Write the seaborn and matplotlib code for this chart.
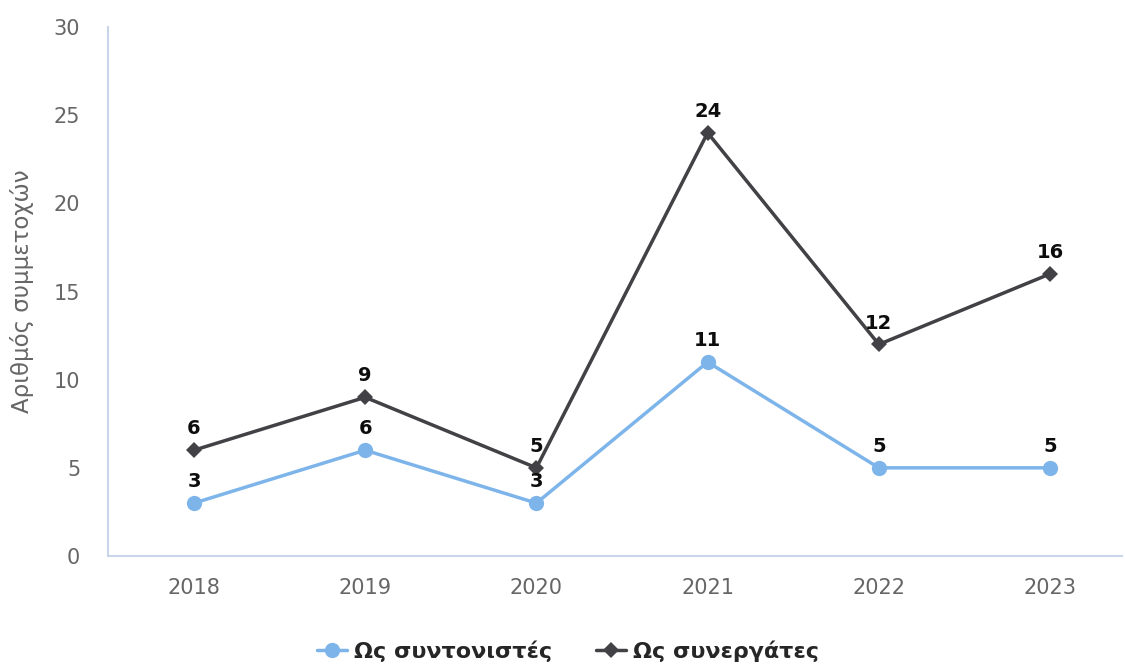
import pandas as pd
import seaborn as sns
import matplotlib.pyplot as plt

years = ['2018', '2019', '2020', '2021', '2022', '2023']
coordinators = [3, 6, 3, 11, 5, 5]
partners = [6, 9, 5, 24, 12, 16]
series_names = ['Ως συντονιστές', 'Ως συνεργάτες']

df = pd.DataFrame({
    'year': years * 2,
    'x': list(range(len(years))) * 2,
    'value': coordinators + partners,
    'series': [series_names[0]] * len(years) + [series_names[1]] * len(years),
})

sns.set_style('white')
plt.rcParams['font.family'] = ['DejaVu Sans']

fig = plt.figure(figsize=(11.25, 6.64), dpi=100)
ax = fig.add_axes([108 / 1125, 1 - 556 / 664, (1122 - 108) / 1125, (556 - 27) / 664])

palette = {series_names[0]: '#7db5ea', series_names[1]: '#424246'}
sns.lineplot(data=df, x='x', y='value', hue='series', style='series',
             markers={series_names[0]: 'o', series_names[1]: 'D'},
             dashes=False, palette=palette, linewidth=2.5, markersize=11,
             markeredgewidth=0, ax=ax, legend=True)
for line in ax.lines:
    if line.get_marker() == 'D':
        line.set_markersize(8.5)

# data labels
for vals in (coordinators, partners):
    for i, v in enumerate(vals):
        ax.annotate(str(v), (i, v), xytext=(0, 8.5), textcoords='offset points',
                    ha='center', va='bottom', fontsize=14, fontweight='bold', color='#0d0d0d')

ax.set_xlim(-0.502, 5.42)
ax.set_ylim(0, 30)
ax.set_xticks(range(len(years)))
ax.set_xticklabels(years)
ax.set_yticks(range(0, 31, 5))
ax.tick_params(axis='both', colors='#666666', labelsize=15, length=0)
ax.tick_params(axis='x', pad=16)
ax.tick_params(axis='y', pad=20)
ax.set_xlabel('')
ax.set_ylabel('Αριθμός συμμετοχών', fontsize=16.5, color='#666666', labelpad=14)

for side in ['top', 'right']:
    ax.spines[side].set_visible(False)
for side in ['left', 'bottom']:
    ax.spines[side].set_color('#c9d6ea')
    ax.spines[side].set_linewidth(1.5)

handles, labels = ax.get_legend_handles_labels()
leg = ax.legend(handles, labels, loc='center', bbox_to_anchor=(568 / 1125, 1 - 651 / 664),
                bbox_transform=fig.transFigure, ncol=2, frameon=False,
                prop={'size': 16, 'weight': 'bold'}, handlelength=1.35,
                columnspacing=2.0, handletextpad=0.3)
for t in leg.get_texts():
    t.set_color('#262626')

fig.savefig('out.png', dpi=100)
